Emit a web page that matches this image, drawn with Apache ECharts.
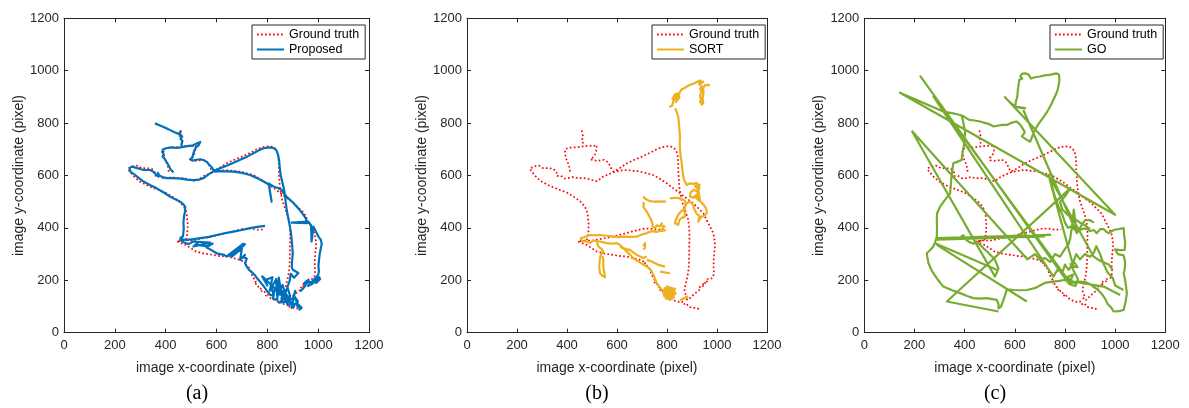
<!DOCTYPE html>
<html><head><meta charset="utf-8">
<script src="https://cdn.jsdelivr.net/npm/echarts@6/dist/echarts.min.js"></script>
<style>html,body{margin:0;padding:0;background:#fff}#c{width:1189px;height:408px}</style>
</head><body><div id="c"></div>
<script>
const BR = [null, null];
const ticks = [0, 200, 400, 600, 800, 1000, 1200];
const panelLabels = ['(a)', '(b)', '(c)'];
const methodNames = ['Proposed', 'SORT', 'GO'];

const gtPath = [
 [459,772],[455,765],[462,760],[458,754],[464,746],[461,738],[465,730],[462,720],[463,710],
 BR,
 [412,615],[410,630],[405,645],[400,658],[394,668],[388,674],[394,680],[389,686],[392,694],[395,702],[410,706],[425,707],[440,708],[455,709],[470,712],[490,714],[505,712],[519,716],[518,702],[516,691],[512,680],[508,672],[500,668],[494,662],[502,658],[498,655],[508,658],[520,656],[535,658],[548,660],[556,656],[565,650],[572,638],[578,625],[585,615],
 [600,622],[620,634],[639,646],[670,660],[705,674],[735,688],[759,700],[780,708],[800,711],[818,710],[828,705],[838,692],[843,672],[845,645],[845,620],[847,590],[849,558],[858,507],[872,469],[885,431],[889,400],[890,370],[889,335],[889,300],[888,270],[886,240],[882,215],[877,195],[872,175],[870,160],[874,148],[880,138],[872,130],[885,125],[878,118],[892,128],[900,140],
 [912,150],[925,160],[935,168],[930,176],[945,178],[940,186],[955,185],[950,195],[965,196],[962,205],[975,205],[985,212],[978,215],[992,212],[988,232],[986,255],[987,280],[989,305],[992,330],[991,350],[985,380],[975,400],[965,418],[955,437],[945,456],[925,475],[905,494],[880,512],[865,522],[852,533],[830,548],[815,558],[798,571],[775,585],[745,602],[720,608],[692,615],[665,618],[639,621],[610,618],[585,612],
 [560,602],[545,596],[530,585],[519,578],[500,583],[480,588],[465,590],[458,596],[465,584],[445,590],[425,594],[405,590],[392,588],[380,596],[370,600],[365,607],[360,598],[358,612],[345,626],[325,628],[305,628],[290,637],[279,638],[265,632],[252,628],
 [256,618],[265,608],[279,592],[300,576],[332,560],[365,547],[399,535],[425,520],[452,502],[468,485],[479,468],[484,445],[485,425],[480,418],[488,410],[485,395],[486,380],[482,365],[479,355],[462,350],[445,348],
 [470,352],[505,352],[545,360],[585,367],[625,377],[665,387],[700,396],[730,398],[760,393],[785,394],
 BR,
 [445,348],[465,340],[479,335],[500,322],[519,310],[550,302],[585,297],[615,292],[639,291],[665,285],[692,278],[705,272],[715,270],[710,262],[725,253],[733,238],[739,221],[745,210],[750,205],[755,196],[748,188],[760,185],[765,175],[770,168],[775,172],[772,158],[779,151],[788,160],[795,140],[800,148],[812,132],[822,128],[832,122],[845,118],[852,113],[860,120],[865,108],[872,106],[878,112],[885,100],[892,100],[900,95],[905,102],[912,95],[920,92],[932,90]
];

const propPath = [
 [358,799],[385,788],[410,777],[435,765],[452,758],[458,768],[455,752],[465,748],[458,740],[466,732],[462,718],[466,708],
 BR,
 [431,612],[420,622],[412,638],[404,650],[396,664],[388,672],[392,682],[386,690],[390,700],[405,705],[425,707],[445,705],[465,708],[485,712],[505,714],[522,722],[536,728],[530,716],[518,706],[512,694],[508,680],[505,668],[496,662],[490,655],[505,657],[520,660],[536,662],[550,658],[562,652],[572,640],[581,632],[588,620],
 [600,622],[620,630],[640,637],[665,648],[693,660],[720,672],[745,685],[765,695],[785,704],[805,707],[824,705],[835,698],[842,680],[846,660],[848,640],[850,621],[853,600],[858,578],[863,558],[867,540],[870,520],[872,500],[876,470],[882,440],[889,405],[893,380],[896,354],[898,330],[900,303],[898,280],[896,252],[900,240],[922,228],[905,210],[892,225],[889,202],[882,182],[876,164],[870,150],[880,140],[868,130],[884,124],[874,116],[890,118],[902,112],[895,104],[912,110],[920,100],[928,96],[935,92],[926,88],[933,102],
 BR,
 [929,157],[942,170],[950,180],[946,190],[958,200],[955,188],[965,196],[975,185],[985,198],[995,205],[1005,212],[992,190],[1008,205],[960,178],[1000,220],[1003,235],[1001,252],[1003,275],[1006,300],[1010,320],[1014,340],[1010,355],[1001,367],[990,388],[981,405],[974,348],[972,410],[961,424],[896,420],[958,418],[950,438],[942,450],[930,465],[916,481],[900,498],[886,510],[876,519],[865,532],[857,545],[842,552],[824,558],[805,570],[817,500],[806,566],[785,577],[760,590],[732,602],[700,610],[667,615],[640,616],[615,617],[588,616],
 [570,605],[549,590],[530,584],[510,582],[483,584],[460,588],[444,589],[425,590],[405,590],[388,594],[374,600],[370,610],[372,596],[362,604],[350,615],[339,621],[313,621],[296,626],[287,628],[276,632],[267,634],[258,628],[254,621],[262,614],[274,606],[290,594],[313,577],[340,563],[365,551],[392,535],[418,519],[440,508],[457,500],[470,490],[477,480],[476,462],[472,443],[470,420],[471,400],[470,385],[468,368],[458,362],[451,360],
 [470,355],[483,354],[510,357],[536,361],[570,366],[601,373],[635,380],[667,386],[700,392],[732,399],[760,404],[791,408],
 BR,
 [455,358],[470,345],[490,338],[509,348],[575,344],[509,329],[522,340],[536,333],[560,330],[585,340],[560,326],[575,318],[601,303],[630,297],[640,291],[706,340],[650,293],[712,338],[660,290],[700,322],[693,278],[712,297],[706,288],[719,283],[712,265],[719,252],[728,240],[738,232],[745,227],[752,218],[758,210],[765,202],[775,190],[785,178],[791,170],[800,158],[811,145],[825,140],[815,180],[830,170],[822,130],[840,125],[835,190],[850,145],[845,210],[860,125],[845,115],[870,118],[862,160],[880,105],[895,112],[905,100],
 [780,215],[800,180],[790,200],[820,212],[810,160],[835,205],[850,160],[840,140],[860,182],[870,150],[855,130],[880,170],[890,140],[875,120],[900,130],[910,160],[895,95],[920,120],[905,140],[925,100],[916,113],[935,95],[929,88]
];

const sortPath = [
 [809,861],[820,866],[826,885],[838,900],[822,892],[832,910],[845,905],[828,900],[840,914],[850,898],[836,880],[852,920],[858,928],[870,934],[880,940],[892,946],[905,950],[915,955],[925,960],[935,962],[928,948],[945,958],[940,955],[930,950],[938,940],[932,928],[942,932],[936,915],[932,905],[940,900],[936,888],[943,880],[940,870],[932,882],[945,876],[942,895],[946,915],[945,935],[952,945],[962,946],[972,944],
 BR,
 [832,857],[838,845],[845,825],[847,805],[849,787],[850,768],[852,749],[851,725],[852,698],[855,672],[859,647],[862,620],[865,596],[870,580],[879,564],[892,570],[905,568],[918,572],[925,564],[915,555],[930,550],[920,540],[905,545],[895,535],[892,520],[905,515],[918,525],[932,507],[925,548],[912,560],[930,565],[922,530],[910,520],[940,495],[945,488],[952,481],[958,470],[959,456],[950,448],[939,443],[932,435],[925,424],[930,445],[918,455],[910,470],[905,485],[900,495],[890,500],[879,494],[872,480],[865,469],[855,462],[852,456],[845,450],[839,443],[835,430],[832,418],[840,412],[845,412],[850,430],[858,438],[872,443],[870,470],[875,495],[870,505],[860,510],[850,513],[835,515],[812,513],
 BR,
 [705,520],[712,512],[719,507],[728,503],[739,501],[752,500],[765,501],[775,500],[785,501],[795,500],
 BR,
 [705,500],[708,490],[705,481],[712,470],[719,462],[726,450],[732,443],[736,432],[739,424],[742,414],[742,405],[752,400],[760,410],[772,405],[779,418],[785,425],[778,410],[790,405],[780,395],[792,390],[770,388],[759,385],[752,392],[740,388],[719,380],[700,375],[679,367],[650,366],[625,367],[605,365],[585,367],[560,370],[532,373],[510,372],[492,373],[470,365],[455,360],[460,350],[478,348],[492,342],[505,352],
 [530,348],[559,342],[580,340],[599,342],[612,335],[625,323],[640,318],[652,316],[666,306],[679,297],[695,290],[705,285],[719,291],
 BR,
 [612,330],[630,318],[650,300],[665,284],[680,275],[705,260],[719,253],[735,240],[748,215],[759,189],[770,175],[779,164],[790,160],[800,170],[812,168],[820,155],[828,145],[822,132],[810,135],[800,140],[790,150],[805,158],[818,150],[812,138],[800,130],[825,160],[815,172],[795,165],[808,148],[822,170],[830,155],[804,136],
 [785,150],[830,160],[790,170],[828,135],[795,130],[835,150],[800,178],[820,128],[788,140],[832,168],[810,125],[812,175],
 BR,
 [519,348],[525,330],[540,318],[545,310],[535,295],[532,285],[530,265],[529,253],[530,240],[532,228],[540,218],[552,212],[550,225],[546,245],[545,265],[545,278],[543,292],
 BR,
 [719,278],[739,272],[752,265],[765,259],[780,255],[792,252],
 BR,
 [772,233],[790,230],[812,227],
 BR,
 [852,125],[865,130],[872,135],[885,138],
 BR,
 [705,330],[712,342],[718,335],[712,323],[705,318]
];

const goPath = [
 [315,844],[350,838],[382,831],[395,826],[408,818],[420,812],[440,810],[462,806],[475,802],[488,799],[500,795],[515,787],[530,790],[550,793],[568,793],[585,800],[600,805],[608,806],[620,795],[628,785],[635,774],[640,765],[628,749],[645,738],[661,729],
 [668,745],[675,765],[690,790],[705,810],[718,828],[730,845],[742,865],[752,885],[762,905],[770,925],[775,945],[778,965],[776,985],[765,990],[745,985],[720,982],[700,978],[680,975],[665,970],[655,985],[642,990],[628,988],[622,978],[630,970],[618,965],[615,945],[612,925],[610,900],[605,885],[601,863],[615,860],[630,857],[641,857],
 [601,863],[580,880],[561,899],[1000,450],[142,916],[315,844],
 BR,
 [222,981],[814,189],[826,200],[808,212],[832,222],[818,185],[842,178],[852,205],[835,235],[822,262],[838,268],[850,250],[834,252],[734,602],[748,560],[760,520],[775,480],[790,450],[800,420],[812,400],[821,405],[835,395],[850,400],[860,392],[875,398],[890,395],[900,388],[915,392],[927,380],[940,395],[955,395],[965,385],[975,380],[994,392],[1010,395],[1034,399],[1036,370],[1040,345],[1038,316],[1020,315],[1000,318],[1010,300],[1034,295],[1040,270],[1038,240],[1034,227],[1040,200],[1047,151],[1042,120],[1034,87],[1015,82],[994,81],[985,95],[970,110],[960,130],[945,150],[930,165],[914,175],[900,185],[885,192],[860,195],[840,190],[820,192],
 [276,901],[754,214],[770,240],[790,230],[800,260],[815,240],[830,262],[845,300],[860,280],[880,300],[900,290],[914,303],[925,330],[940,300],[955,260],[970,230],[990,210],[1000,180],[1020,170],[1033,163],
 BR,
 [388,831],[395,800],[402,768],[398,720],[392,690],[388,659],[370,652],[355,647],[348,600],[342,532],[320,505],[302,481],[290,455],[289,430],[290,400],[289,367],[282,345],[275,329],[262,315],[249,303],[252,285],[256,265],[265,245],[275,227],[295,200],[315,176],[350,162],[382,151],[410,140],[435,132],[460,130],[488,132],[510,128],[528,125],[535,110],[535,93],[545,100],[555,125],[562,145],[568,163],[580,165],[595,163],[620,162],[648,163],[680,170],[700,180],[720,190],[750,195],[780,198],[794,201],[954,176],[1020,144],
 BR,
 [189,771],[521,214],[535,245],[528,262],[520,280],[505,295],[490,310],[475,322],[460,338],[450,345],[435,340],[420,345],[405,355],[395,372],[380,362],[355,357],[330,358],[300,360],[289,361],[741,373],[289,355],[720,368],
 BR,
 [189,771],[650,280],[680,300],[701,278],[720,285],[741,270],[760,300],[780,290],[800,320],[815,340],[821,360],[830,420],[835,470],[847,380],
 BR,
 [634,850],[847,380],[860,400],[880,430],[900,430],[915,420],
 BR,
 [282,341],[528,240],
 BR,
 [289,335],[648,119],
 BR,
 [535,81],[329,119],[821,551],[800,520],[780,500],[790,470],[810,450],[830,440],[860,420],[880,410],[900,395],
 BR,
 [734,602],[914,291],[930,280],[950,270],[975,260],[990,240]
];

const methodPaths = [propPath, sortPath, goPath];
const methodColors = ['#0072BD', '#EDB120', '#77AC30'];
const grids = [
 {left: 64, top: 18.3, width: 305, height: 314.4},
 {left: 467, top: 18.3, width: 300, height: 314.4},
 {left: 864.3, top: 18.3, width: 301, height: 314.4}
];
const legendLefts = [252, 652, 1050];
const labelX = [197, 597, 995];

const axisCol = '#262626';
const FONT = '"Liberation Sans", Arial, sans-serif';
const xAxes = [], yAxes = [], series = [], legends = [], graphics = [];
grids.forEach((g, i) => {
  const base = {
    gridIndex: i, type: 'value', min: ticks[0], max: ticks[ticks.length - 1], interval: 200,
    axisLine: {show: true, onZero: false, lineStyle: {color: axisCol, width: 1}},
    axisTick: {show: true, inside: true, length: 4, lineStyle: {color: axisCol, width: 1}},
    splitLine: {show: false}
  };
  const lbl = {color: axisCol, fontSize: 13, fontFamily: FONT, showMaxLabel: true, showMinLabel: true,
               formatter: v => String(v)};
  xAxes.push(Object.assign({}, base, {
    position: 'bottom',
    axisLabel: Object.assign({margin: 6}, lbl),
    name: 'image x-coordinate (pixel)', nameLocation: 'middle', nameGap: 28,
    nameTextStyle: {color: axisCol, fontSize: 14, fontFamily: FONT}
  }));
  xAxes.push(Object.assign({}, base, {position: 'top', axisLabel: {show: false}}));
  yAxes.push(Object.assign({}, base, {
    position: 'left',
    axisLabel: Object.assign({margin: 5}, lbl),
    name: 'image y-coordinate (pixel)', nameLocation: 'middle', nameGap: 36,
    nameTextStyle: {color: axisCol, fontSize: 14, fontFamily: FONT}
  }));
  yAxes.push(Object.assign({}, base, {position: 'right', axisLabel: {show: false}}));

  series.push({
    name: 'Ground truth', type: 'line', xAxisIndex: 2 * i, yAxisIndex: 2 * i,
    data: gtPath, symbol: 'none', showSymbol: false, connectNulls: false, clip: true,
    lineStyle: {color: '#FF0000', width: 1.7, type: [1.7, 2.3], cap: 'butt'},
    itemStyle: {color: '#FF0000'}, z: 2, silent: true
  });
  series.push({
    name: methodNames[i], type: 'line', xAxisIndex: 2 * i, yAxisIndex: 2 * i,
    data: methodPaths[i], symbol: 'none', showSymbol: false, connectNulls: false, clip: true,
    lineStyle: {color: methodColors[i], width: 2.2, join: 'round'},
    itemStyle: {color: methodColors[i]}, z: 3, silent: true
  });
  legends.push({
    left: legendLefts[i], top: 25, orient: 'vertical',
    data: ['Ground truth', methodNames[i]],
    itemWidth: 27, itemHeight: 14, itemGap: 2, itemTextGap: 3,
    itemStyle: {opacity: 0},
    padding: [3, 6, 3, 4], borderColor: axisCol, borderWidth: 1, backgroundColor: '#fff',
    textStyle: {color: '#000', fontSize: 12.5, fontFamily: FONT},
    selectedMode: false
  });
  graphics.push({
    type: 'text', x: labelX[i], y: 394,
    style: {text: panelLabels[i], fontSize: 20, fontFamily: '"Liberation Serif", "Times New Roman", serif',
            fill: '#000', align: 'center', verticalAlign: 'middle'}
  });
});

const chart = echarts.init(document.getElementById('c'), null, {renderer: 'canvas'});
chart.setOption({
  animation: false,
  backgroundColor: '#fff',
  grid: grids,
  xAxis: xAxes, yAxis: yAxes,
  legend: legends,
  series: series,
  graphic: graphics
});
</script></body></html>
